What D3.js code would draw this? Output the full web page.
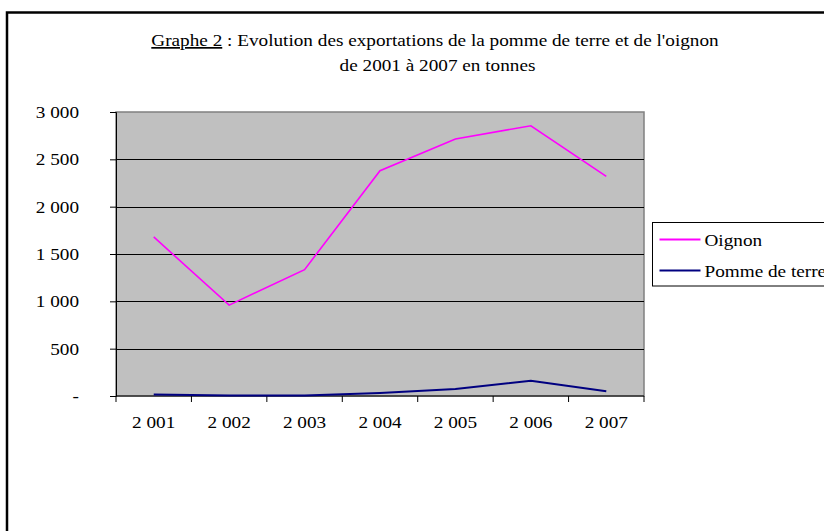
<!DOCTYPE html>
<html>
<head>
<meta charset="utf-8">
<script src="https://cdn.jsdelivr.net/npm/d3@7"></script>
<style>
  body { margin: 0; background: #fff; }
  svg { display: block; font-family: "Liberation Serif", "Times New Roman", serif; }
</style>
</head>
<body>
<svg id="chart" width="824" height="531"></svg>
<script>
// Data
const years = ["2 001", "2 002", "2 003", "2 004", "2 005", "2 006", "2 007"];
const oignon = [1680, 960, 1335, 2380, 2715, 2855, 2320];
const pommeDeTerre = [15, 4, 4, 32, 74, 160, 50];
const yTicks = [0, 500, 1000, 1500, 2000, 2500, 3000];
const seriesNames = ["Oignon", "Pomme de terre"];
const seriesColors = ["#ff00ff", "#000080"];

const width = 824;
const height = 531;
const plot = { left: 116, right: 644, top: 112, bottom: 396 };
const fontSize = 17;
const stretch = 1.13; // the original text is a bit wider than Liberation Serif

const svg = d3.select("#chart");

// widen a text node horizontally, keeping its anchor
function widen(sel) {
    sel.each(function () {
        const len = this.getComputedTextLength();
        d3.select(this)
            .attr("textLength", len * stretch)
            .attr("lengthAdjust", "spacingAndGlyphs");
    });
}

// Outer frame (right and bottom edges fall outside the picture)
svg.append("rect")
    .attr("x", 7)
    .attr("y", 12.5)
    .attr("width", 840)
    .attr("height", 560)
    .attr("fill", "none")
    .attr("stroke", "#000")
    .attr("stroke-width", 2.5);

// Title
const title = svg.append("text")
    .attr("x", 435)
    .attr("y", 46)
    .attr("text-anchor", "middle")
    .attr("font-size", fontSize)
    .attr("fill", "#000");
title.append("tspan")
    .attr("text-decoration", "underline")
    .text("Graphe 2");
title.append("tspan").text(" : Evolution des exportations de la pomme de terre et de l'oignon");
title.call(widen);

svg.append("text")
    .attr("x", 437.5)
    .attr("y", 71)
    .attr("text-anchor", "middle")
    .attr("font-size", fontSize)
    .attr("fill", "#000")
    .text("de 2001 à 2007 en tonnes")
    .call(widen);

// Scales
const xScale = d3.scaleBand()
    .domain(years)
    .range([plot.left, plot.right]);

const yScale = d3.scaleLinear()
    .domain([0, 3000])
    .range([plot.bottom, plot.top]);

// Plot background
svg.append("rect")
    .attr("x", plot.left)
    .attr("y", plot.top)
    .attr("width", plot.right - plot.left)
    .attr("height", plot.bottom - plot.top)
    .attr("fill", "#c0c0c0")
    .attr("stroke", "#808080")
    .attr("stroke-width", 1.5);

// Gridlines
svg.append("g")
    .selectAll("line")
    .data(yTicks.filter(d => d > 0 && d < 3000))
    .join("line")
    .attr("x1", plot.left)
    .attr("x2", plot.right)
    .attr("y1", d => Math.round(yScale(d)) + 0.5)
    .attr("y2", d => Math.round(yScale(d)) + 0.5)
    .attr("stroke", "#000")
    .attr("stroke-width", 1);

// Y axis
const fr = d3.formatLocale({ decimal: ",", thousands: " ", grouping: [3], currency: ["", " €"] });
const yAxis = d3.axisLeft(yScale)
    .tickValues(yTicks)
    .tickSize(6)
    .tickPadding(31)
    .tickFormat(d => d === 0 ? "-" : fr.format(",")(d));

svg.append("g")
    .attr("transform", `translate(${plot.left},0)`)
    .call(yAxis)
    .call(g => g.select(".domain").attr("stroke", "#000"))
    .call(g => g.selectAll("text").attr("font-size", fontSize).attr("fill", "#000")
        .attr("font-family", "Liberation Serif").call(widen));

// X axis
const xAxis = d3.axisBottom(xScale)
    .tickSize(0)
    .tickPadding(20);

const gx = svg.append("g")
    .attr("transform", `translate(0,${plot.bottom})`)
    .call(xAxis)
    .call(g => g.select(".domain").attr("stroke", "#000").attr("d", `M${plot.left},0H${plot.right}`))
    .call(g => g.selectAll("text").attr("font-size", fontSize).attr("fill", "#000")
        .attr("font-family", "Liberation Serif").call(widen));

// Category boundary ticks
gx.selectAll(".bound")
    .data(years.concat(["end"]))
    .join("line")
    .attr("class", "bound")
    .attr("x1", (d, i) => plot.left + i * xScale.step())
    .attr("x2", (d, i) => plot.left + i * xScale.step())
    .attr("y1", 0)
    .attr("y2", 6)
    .attr("stroke", "#000");

// Lines
const line = d3.line()
    .x((d, i) => xScale(years[i]) + xScale.bandwidth() / 2)
    .y(d => yScale(d));

[oignon, pommeDeTerre].forEach((values, k) => {
    svg.append("path")
        .datum(values)
        .attr("fill", "none")
        .attr("stroke", seriesColors[k])
        .attr("stroke-width", k === 0 ? 1.6 : 2)
        .attr("d", line);
});

// Legend
const legend = svg.append("g").attr("transform", "translate(652.5,222.5)");
legend.append("rect")
    .attr("width", 200)
    .attr("height", 63.5)
    .attr("fill", "#fff")
    .attr("stroke", "#000")
    .attr("stroke-width", 1);

seriesNames.forEach((name, i) => {
    const y = 17 + i * 31;
    legend.append("line")
        .attr("x1", 7)
        .attr("x2", 48)
        .attr("y1", y)
        .attr("y2", y)
        .attr("stroke", seriesColors[i])
        .attr("stroke-width", 2);
    legend.append("text")
        .attr("x", 52)
        .attr("y", y + 6)
        .attr("font-size", fontSize)
        .attr("fill", "#000")
        .text(name)
        .call(widen);
});
</script>
</body>
</html>
